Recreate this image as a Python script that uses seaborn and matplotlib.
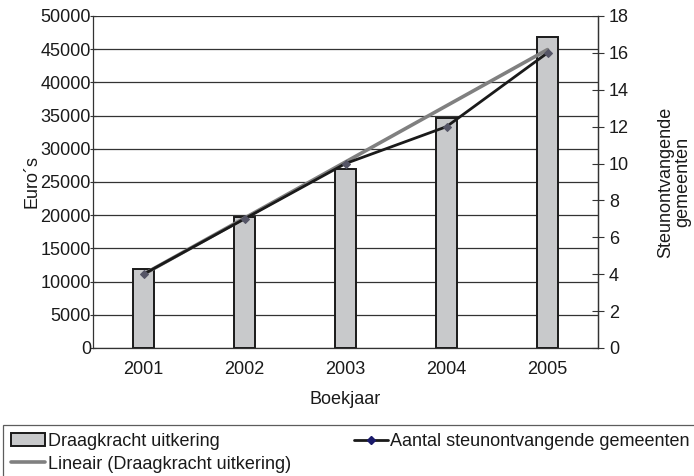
import numpy as np
import pandas as pd
import matplotlib
matplotlib.use("Agg")
import matplotlib.pyplot as plt
import seaborn as sns
from matplotlib.patches import Patch
from matplotlib.lines import Line2D

years = ["2001", "2002", "2003", "2004", "2005"]
uitkering = [11900, 19800, 27000, 34600, 46800]
gemeenten = [4, 7, 10, 12, 16]

sns.set_theme(style="white")
plt.rcParams['font.family'] = ['Liberation Sans', 'DejaVu Sans']
FS = 13
plt.rcParams['font.size'] = FS
TXT = "#1a1a1a"

df = pd.DataFrame({"Boekjaar": years, "Euro": uitkering, "Gem": gemeenten})

fig = plt.figure(figsize=(6.94, 4.76), dpi=100)
ax = fig.add_axes([93/694, 1-348/476, (598-93)/694, (348-16)/476])

sns.barplot(data=df, x="Boekjaar", y="Euro", ax=ax, width=0.2,
            color="#c8c9cb", edgecolor="#1a1a1a", linewidth=1.4, saturation=1)
sns.regplot(x=np.arange(len(years)), y=np.array(uitkering, dtype=float), ax=ax,
            scatter=False, ci=None, truncate=True,
            line_kws=dict(color="#808080", lw=2.6, zorder=5))
ax.set_xlim(-0.5, 4.5)
ax.set_ylim(0, 50000)
ax.set_yticks(np.arange(0, 50001, 5000))
ax.set_yticklabels([str(v) for v in range(0, 50001, 5000)], color=TXT)
ax.yaxis.grid(True, color="#333333", lw=0.9)
ax.set_axisbelow(True)
ax.set_xlabel("Boekjaar", fontsize=FS, labelpad=10, color=TXT)
ax.set_ylabel("Euro´s", fontsize=FS, color=TXT)
ax.yaxis.set_label_coords(-0.103, 0.5)
ax.set_xticks([0.5, 1.5, 2.5, 3.5], minor=False)
ax.set_xticklabels([])
ax.set_xticks(range(5), minor=True)
ax.set_xticklabels(years, minor=True, color=TXT)
ax.tick_params(axis='x', which='minor', length=0, pad=9, labelsize=FS)
ax.tick_params(axis='x', which='major', length=8, direction='inout', width=0.8, color='#333333')
ax.tick_params(axis='y', length=5, direction='inout', width=0.8, color='#333333', pad=-1, labelsize=FS)
ax.spines["top"].set_visible(False)
for s in ["left", "bottom", "right"]:
    ax.spines[s].set_color("#333333")
    ax.spines[s].set_linewidth(0.9)

ax2 = ax.twinx()
sns.lineplot(x=np.arange(len(years)), y=gemeenten, ax=ax2, color="#1a1a1a", lw=2,
             marker="D", markersize=4, markerfacecolor="#555566", markeredgecolor="#555566", zorder=6)
ax2.set_ylim(0, 18)
ax2.set_yticks(range(0, 19, 2))
ax2.set_yticklabels([str(v) for v in range(0, 19, 2)], color=TXT)
ax2.tick_params(axis='y', length=8, direction='inout', width=0.8, color='#333333', pad=4, labelsize=FS)
ax2.set_ylabel("Steunontvangende\ngemeenten", fontsize=FS, labelpad=20, color=TXT,
               linespacing=1.0)
ax2.spines["top"].set_visible(False)
ax2.spines["right"].set_color("#333333")
ax2.spines["right"].set_linewidth(0.9)
ax2.spines["left"].set_visible(False)
ax2.spines["bottom"].set_visible(False)
ax.set_zorder(1); ax2.set_zorder(2); ax2.patch.set_visible(False)

handles = [
    Patch(facecolor="#c8c9cb", edgecolor="#1a1a1a", lw=1.4, label="Draagkracht uitkering"),
    Line2D([], [], color="#808080", lw=2.6, label="Lineair (Draagkracht uitkering)"),
    Line2D([], [], color="#1a1a1a", lw=2, marker="D", markersize=4,
           markerfacecolor="#1a1a6a", markeredgecolor="#1a1a6a", label="Aantal steunontvangende gemeenten"),
]
leg = fig.legend(handles=handles, ncol=2, loc="upper left",
                 bbox_to_anchor=(3/694, 1-425/476),
                 frameon=True, fontsize=FS, handlelength=1.9,
                 handletextpad=0.12, borderaxespad=0, borderpad=0.45, labelspacing=0.3,
                 fancybox=False, edgecolor="#333333", columnspacing=3.5)
leg.get_frame().set_linewidth(0.9)
for t in leg.get_texts():
    t.set_color(TXT)

fig.savefig("out.png", dpi=100)
